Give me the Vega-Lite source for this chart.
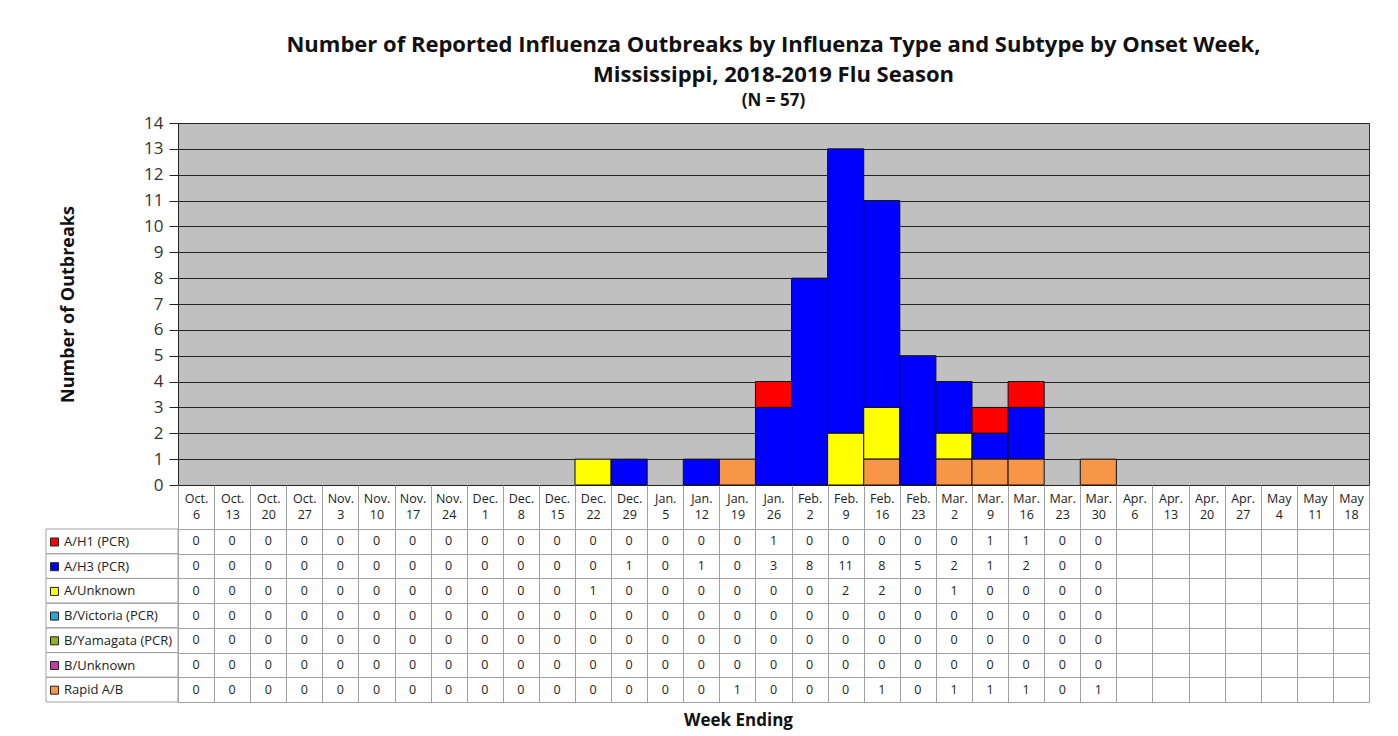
{
  "$schema": "https://vega.github.io/schema/vega-lite/v6.json",
  "padding": {"left": 45, "top": 33, "right": 28, "bottom": 2},
  "background": "white",
  "config": {
    "font": "Open Sans",
    "view": {"stroke": null},
    "concat": {"spacing": 0},
    "title": {"subtitleFontSize": 17, "subtitleFontWeight": "bold", "subtitleFont": "Open Sans", "subtitleColor": "#111111"}
  },
  "datasets": {
    "flu": [
      {"week": "Oct. 6", "A/H1 (PCR)": 0, "A/H3 (PCR)": 0, "A/Unknown": 0, "B/Victoria (PCR)": 0, "B/Yamagata (PCR)": 0, "B/Unknown": 0, "Rapid A/B": 0},
      {"week": "Oct. 13", "A/H1 (PCR)": 0, "A/H3 (PCR)": 0, "A/Unknown": 0, "B/Victoria (PCR)": 0, "B/Yamagata (PCR)": 0, "B/Unknown": 0, "Rapid A/B": 0},
      {"week": "Oct. 20", "A/H1 (PCR)": 0, "A/H3 (PCR)": 0, "A/Unknown": 0, "B/Victoria (PCR)": 0, "B/Yamagata (PCR)": 0, "B/Unknown": 0, "Rapid A/B": 0},
      {"week": "Oct. 27", "A/H1 (PCR)": 0, "A/H3 (PCR)": 0, "A/Unknown": 0, "B/Victoria (PCR)": 0, "B/Yamagata (PCR)": 0, "B/Unknown": 0, "Rapid A/B": 0},
      {"week": "Nov. 3", "A/H1 (PCR)": 0, "A/H3 (PCR)": 0, "A/Unknown": 0, "B/Victoria (PCR)": 0, "B/Yamagata (PCR)": 0, "B/Unknown": 0, "Rapid A/B": 0},
      {"week": "Nov. 10", "A/H1 (PCR)": 0, "A/H3 (PCR)": 0, "A/Unknown": 0, "B/Victoria (PCR)": 0, "B/Yamagata (PCR)": 0, "B/Unknown": 0, "Rapid A/B": 0},
      {"week": "Nov. 17", "A/H1 (PCR)": 0, "A/H3 (PCR)": 0, "A/Unknown": 0, "B/Victoria (PCR)": 0, "B/Yamagata (PCR)": 0, "B/Unknown": 0, "Rapid A/B": 0},
      {"week": "Nov. 24", "A/H1 (PCR)": 0, "A/H3 (PCR)": 0, "A/Unknown": 0, "B/Victoria (PCR)": 0, "B/Yamagata (PCR)": 0, "B/Unknown": 0, "Rapid A/B": 0},
      {"week": "Dec. 1", "A/H1 (PCR)": 0, "A/H3 (PCR)": 0, "A/Unknown": 0, "B/Victoria (PCR)": 0, "B/Yamagata (PCR)": 0, "B/Unknown": 0, "Rapid A/B": 0},
      {"week": "Dec. 8", "A/H1 (PCR)": 0, "A/H3 (PCR)": 0, "A/Unknown": 0, "B/Victoria (PCR)": 0, "B/Yamagata (PCR)": 0, "B/Unknown": 0, "Rapid A/B": 0},
      {"week": "Dec. 15", "A/H1 (PCR)": 0, "A/H3 (PCR)": 0, "A/Unknown": 0, "B/Victoria (PCR)": 0, "B/Yamagata (PCR)": 0, "B/Unknown": 0, "Rapid A/B": 0},
      {"week": "Dec. 22", "A/H1 (PCR)": 0, "A/H3 (PCR)": 0, "A/Unknown": 1, "B/Victoria (PCR)": 0, "B/Yamagata (PCR)": 0, "B/Unknown": 0, "Rapid A/B": 0},
      {"week": "Dec. 29", "A/H1 (PCR)": 0, "A/H3 (PCR)": 1, "A/Unknown": 0, "B/Victoria (PCR)": 0, "B/Yamagata (PCR)": 0, "B/Unknown": 0, "Rapid A/B": 0},
      {"week": "Jan. 5", "A/H1 (PCR)": 0, "A/H3 (PCR)": 0, "A/Unknown": 0, "B/Victoria (PCR)": 0, "B/Yamagata (PCR)": 0, "B/Unknown": 0, "Rapid A/B": 0},
      {"week": "Jan. 12", "A/H1 (PCR)": 0, "A/H3 (PCR)": 1, "A/Unknown": 0, "B/Victoria (PCR)": 0, "B/Yamagata (PCR)": 0, "B/Unknown": 0, "Rapid A/B": 0},
      {"week": "Jan. 19", "A/H1 (PCR)": 0, "A/H3 (PCR)": 0, "A/Unknown": 0, "B/Victoria (PCR)": 0, "B/Yamagata (PCR)": 0, "B/Unknown": 0, "Rapid A/B": 1},
      {"week": "Jan. 26", "A/H1 (PCR)": 1, "A/H3 (PCR)": 3, "A/Unknown": 0, "B/Victoria (PCR)": 0, "B/Yamagata (PCR)": 0, "B/Unknown": 0, "Rapid A/B": 0},
      {"week": "Feb. 2", "A/H1 (PCR)": 0, "A/H3 (PCR)": 8, "A/Unknown": 0, "B/Victoria (PCR)": 0, "B/Yamagata (PCR)": 0, "B/Unknown": 0, "Rapid A/B": 0},
      {"week": "Feb. 9", "A/H1 (PCR)": 0, "A/H3 (PCR)": 11, "A/Unknown": 2, "B/Victoria (PCR)": 0, "B/Yamagata (PCR)": 0, "B/Unknown": 0, "Rapid A/B": 0},
      {"week": "Feb. 16", "A/H1 (PCR)": 0, "A/H3 (PCR)": 8, "A/Unknown": 2, "B/Victoria (PCR)": 0, "B/Yamagata (PCR)": 0, "B/Unknown": 0, "Rapid A/B": 1},
      {"week": "Feb. 23", "A/H1 (PCR)": 0, "A/H3 (PCR)": 5, "A/Unknown": 0, "B/Victoria (PCR)": 0, "B/Yamagata (PCR)": 0, "B/Unknown": 0, "Rapid A/B": 0},
      {"week": "Mar. 2", "A/H1 (PCR)": 0, "A/H3 (PCR)": 2, "A/Unknown": 1, "B/Victoria (PCR)": 0, "B/Yamagata (PCR)": 0, "B/Unknown": 0, "Rapid A/B": 1},
      {"week": "Mar. 9", "A/H1 (PCR)": 1, "A/H3 (PCR)": 1, "A/Unknown": 0, "B/Victoria (PCR)": 0, "B/Yamagata (PCR)": 0, "B/Unknown": 0, "Rapid A/B": 1},
      {"week": "Mar. 16", "A/H1 (PCR)": 1, "A/H3 (PCR)": 2, "A/Unknown": 0, "B/Victoria (PCR)": 0, "B/Yamagata (PCR)": 0, "B/Unknown": 0, "Rapid A/B": 1},
      {"week": "Mar. 23", "A/H1 (PCR)": 0, "A/H3 (PCR)": 0, "A/Unknown": 0, "B/Victoria (PCR)": 0, "B/Yamagata (PCR)": 0, "B/Unknown": 0, "Rapid A/B": 0},
      {"week": "Mar. 30", "A/H1 (PCR)": 0, "A/H3 (PCR)": 0, "A/Unknown": 0, "B/Victoria (PCR)": 0, "B/Yamagata (PCR)": 0, "B/Unknown": 0, "Rapid A/B": 1}
    ]
  },
  "columns": 2,
  "bounds": "flush",
  "spacing": {"row": 44, "column": 0},
  "resolve": {"scale": {"color": "independent"}, "legend": {"color": "independent"}},
  "concat": [
    {
      "width": 132,
      "height": 362,
      "data": {"values": []},
      "mark": "rect"
    },
    {
      "width": 1191,
      "height": 362,
      "view": {"fill": "#c0c0c0", "stroke": "#333333", "strokeWidth": 1},
      "title": {
        "text": ["Number of Reported Influenza Outbreaks by Influenza Type and Subtype by Onset Week,", "Mississippi, 2018-2019 Flu Season"],
        "subtitle": "(N = 57)",
        "anchor": "middle",
        "frame": "group",
        "font": "Open Sans",
        "fontSize": 22,
        "fontWeight": "bold",
        "lineHeight": 30,
        "color": "#111111",
        "subtitleFont": "Open Sans",
        "subtitleFontSize": 17,
        "subtitleFontWeight": "bold",
        "subtitleColor": "#111111",
        "subtitleLineHeight": 20,
        "subtitlePadding": 6,
        "offset": 4
      },
      "data": {"name": "flu"},
      "transform": [
        {"fold": ["A/H1 (PCR)", "A/H3 (PCR)", "A/Unknown", "B/Victoria (PCR)", "B/Yamagata (PCR)", "B/Unknown", "Rapid A/B"], "as": ["series", "count"]},
        {"filter": "datum.count > 0"}
      ],
      "mark": {"type": "bar", "stroke": "#111111", "strokeWidth": 1},
      "encoding": {
        "x": {
          "field": "week", "type": "nominal",
          "scale": {"domain": ["Oct. 6","Oct. 13","Oct. 20","Oct. 27","Nov. 3","Nov. 10","Nov. 17","Nov. 24","Dec. 1","Dec. 8","Dec. 15","Dec. 22","Dec. 29","Jan. 5","Jan. 12","Jan. 19","Jan. 26","Feb. 2","Feb. 9","Feb. 16","Feb. 23","Mar. 2","Mar. 9","Mar. 16","Mar. 23","Mar. 30","Apr. 6","Apr. 13","Apr. 20","Apr. 27","May 4","May 11","May 18"], "paddingInner": 0, "paddingOuter": 0},
          "axis": null
        },
        "y": {
          "field": "count", "type": "quantitative", "aggregate": "sum", "stack": "zero",
          "scale": {"domain": [0, 14], "nice": false},
          "axis": {
            "title": "Number of Outbreaks",
            "titleFont": "Open Sans", "titleFontSize": 18, "titleFontWeight": "bold", "titleColor": "#111111",
            "titlePadding": 66,
            "values": [0,1,2,3,4,5,6,7,8,9,10,11,12,13,14],
            "labelFont": "Open Sans", "labelFontSize": 17, "labelColor": "#333333", "labelPadding": 6,
            "tickSize": 9, "tickColor": "#222222", "domainColor": "#222222",
            "grid": true, "gridColor": "#222222", "gridWidth": 1.2
          }
        },
        "color": {
          "field": "series", "type": "nominal",
          "scale": {
            "domain": ["A/H1 (PCR)", "A/H3 (PCR)", "A/Unknown", "B/Victoria (PCR)", "B/Yamagata (PCR)", "B/Unknown", "Rapid A/B"],
            "range": ["#ff0000", "#0000ff", "#ffff00", "#2ba6d8", "#8fb51c", "#c73aa8", "#f79646"]
          },
          "legend": {
            "orient": "none", "legendX": -130, "legendY": 412.5,
            "title": null, "padding": 0,
            "symbolType": "square", "symbolSize": 64, "symbolStrokeColor": "#222222", "symbolStrokeWidth": 1, "symbolOpacity": 1,
            "labelFont": "Open Sans", "labelFontSize": 13, "labelColor": "#222222", "labelOffset": 3,
            "rowPadding": 10.7
          }
        },
        "order": {"field": "series", "sort": "descending"}
      }
    },
    {
      "width": 132,
      "height": 173,
      "data": {"name": "flu"},
      "transform": [
        {"fold": ["A/H1 (PCR)", "A/H3 (PCR)", "A/Unknown", "B/Victoria (PCR)", "B/Yamagata (PCR)", "B/Unknown", "Rapid A/B"], "as": ["series", "count"]},
        {"aggregate": [{"op": "count", "as": "n"}], "groupby": ["series"]}
      ],
      "mark": {"type": "rect", "fill": "white", "fillOpacity": 0, "stroke": "#a0a0a0", "strokeWidth": 1},
      "encoding": {
        "y": {
          "field": "series", "type": "nominal",
          "scale": {"domain": ["A/H1 (PCR)", "A/H3 (PCR)", "A/Unknown", "B/Victoria (PCR)", "B/Yamagata (PCR)", "B/Unknown", "Rapid A/B"], "paddingInner": 0, "paddingOuter": 0},
          "axis": null
        }
      }
    },
    {
      "width": 1191,
      "height": 173,
      "title": {"text": "Week Ending", "orient": "bottom", "anchor": "middle", "frame": "group", "font": "Open Sans", "fontSize": 17, "fontWeight": "bold", "color": "#111111", "offset": 11, "dx": -35},
      "data": {"name": "flu"},
      "transform": [
        {"fold": ["A/H1 (PCR)", "A/H3 (PCR)", "A/Unknown", "B/Victoria (PCR)", "B/Yamagata (PCR)", "B/Unknown", "Rapid A/B"], "as": ["series", "count"]}
      ],
      "mark": {"type": "text", "font": "Open Sans", "fontSize": 12.5, "color": "#222222", "baseline": "middle", "align": "center"},
      "encoding": {
        "x": {
          "field": "week", "type": "nominal",
          "scale": {"domain": ["Oct. 6","Oct. 13","Oct. 20","Oct. 27","Nov. 3","Nov. 10","Nov. 17","Nov. 24","Dec. 1","Dec. 8","Dec. 15","Dec. 22","Dec. 29","Jan. 5","Jan. 12","Jan. 19","Jan. 26","Feb. 2","Feb. 9","Feb. 16","Feb. 23","Mar. 2","Mar. 9","Mar. 16","Mar. 23","Mar. 30","Apr. 6","Apr. 13","Apr. 20","Apr. 27","May 4","May 11","May 18"], "paddingInner": 0, "paddingOuter": 0},
          "axis": {
            "orient": "top", "title": null,
            "grid": true, "gridColor": "#a0a0a0", "gridWidth": 1,
            "tickBand": "extent", "tickSize": 44, "tickColor": "#a0a0a0",
            "domain": true, "domainColor": "#a0a0a0",
            "labelExpr": "isValid(datum.value) ? split(datum.value, ' ') : ''",
            "labelAngle": 0, "labelBaseline": "top", "labelPadding": -7, "labelLineHeight": 16,
            "labelFont": "Open Sans", "labelFontSize": 12.5, "labelColor": "#222222", "labelOverlap": false
          }
        },
        "y": {
          "field": "series", "type": "nominal",
          "scale": {"domain": ["A/H1 (PCR)", "A/H3 (PCR)", "A/Unknown", "B/Victoria (PCR)", "B/Yamagata (PCR)", "B/Unknown", "Rapid A/B"], "paddingInner": 0, "paddingOuter": 0},
          "axis": {"title": null, "labels": false, "ticks": false, "domain": false, "grid": true, "gridColor": "#a0a0a0", "tickBand": "extent"}
        },
        "text": {"field": "count", "type": "quantitative"}
      }
    }
  ]
}
